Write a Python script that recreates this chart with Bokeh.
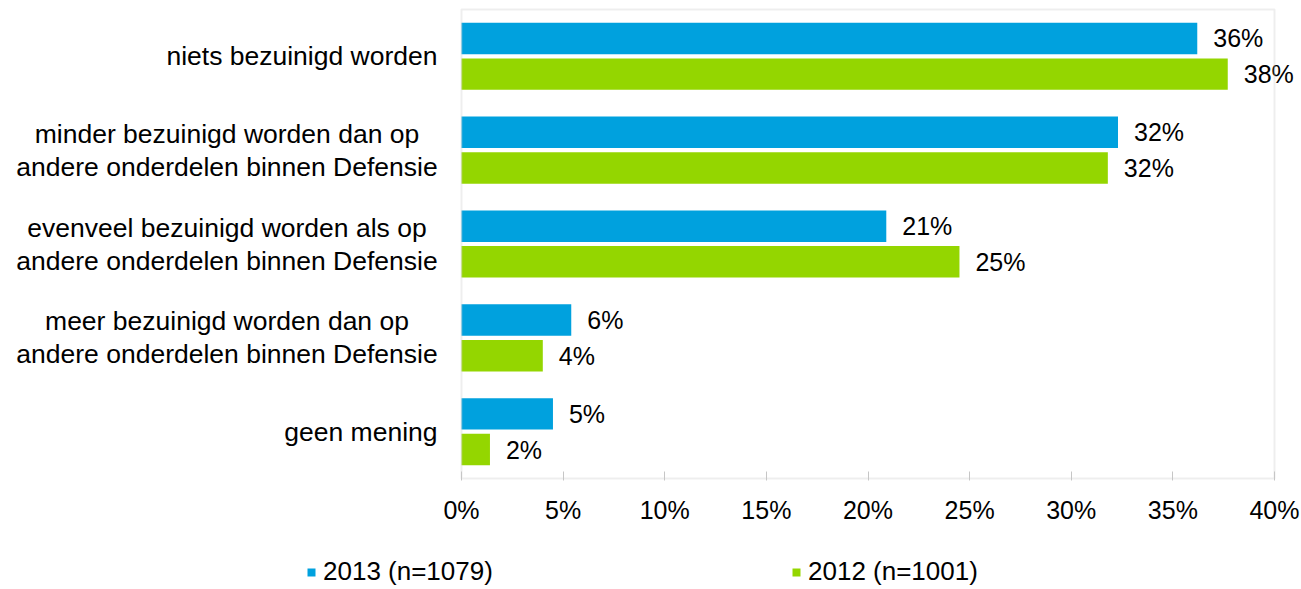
from bokeh.plotting import figure
from bokeh.models import (ColumnDataSource, FactorRange, Range1d, FixedTicker,
                          Legend, LegendItem, BoxAnnotation)
from bokeh.layouts import column
from bokeh.transform import dodge
from bokeh.core.properties import value
from bokeh.embed import file_html
from bokeh.resources import INLINE

# ---------------- data ----------------
categories = [
    "niets bezuinigd worden",
    "minder bezuinigd worden dan op\nandere onderdelen binnen Defensie",
    "evenveel bezuinigd worden als op\nandere onderdelen binnen Defensie",
    "meer bezuinigd worden dan op\nandere onderdelen binnen Defensie",
    "geen mening",
]
values_2013 = [36.2, 32.3, 20.9, 5.4, 4.5]
values_2012 = [37.7, 31.8, 24.5, 4.0, 1.4]
labels_2013 = ["36%", "32%", "21%", "6%", "5%"]
labels_2012 = ["38%", "32%", "25%", "4%", "2%"]
series_names = ["2013 (n=1079)", "2012 (n=1001)"]
x_ticks = [0, 5, 10, 15, 20, 25, 30, 35, 40]
x_tick_labels = ["0%", "5%", "10%", "15%", "20%", "25%", "30%", "35%", "40%"]
x_min, x_max = 0, 40

# ---------------- style / layout ----------------
FONT = "Liberation Sans"
FS_CAT = "26.5px"
FS_VAL = "25px"
FS_TICK = "25px"
FS_LEG = "26px"
BLUE = "#00A1DE"
GREEN = "#94D600"
FRAME = "#c6c6c6"
DODGE = 0.19
BAR_H = 0.335

W = 1300
H_MAIN, H_LEG = 548, 40
BOX_LEFT_PX, BOX_RIGHT_PX = 461, 1274      # plot box inside the frame
PAD = 0.02                                 # factor-units padding around box
px_per_unit = (BOX_RIGHT_PX - BOX_LEFT_PX) / (x_max - x_min)
xr = Range1d(x_min - BOX_LEFT_PX / px_per_unit,
             x_max + (W - BOX_RIGHT_PX) / px_per_unit)

p = figure(width=W, height=H_MAIN, title=None,
           y_range=FactorRange(factors=categories[::-1], range_padding=PAD,
                               range_padding_units="absolute"),
           x_range=xr, y_axis_location=None,
           output_backend="svg", toolbar_location=None,
           min_border_left=0, min_border_right=0,
           min_border_top=7, min_border_bottom=68)
p.background_fill_color = "white"
p.border_fill_color = "white"
p.outline_line_color = None
p.xgrid.visible = False
p.ygrid.visible = False

ax = p.xaxis[0]
ax.ticker = FixedTicker(ticks=x_ticks)
ax.major_label_overrides = {t: l for t, l in zip(x_ticks, x_tick_labels)}
ax.axis_line_color = None
ax.major_tick_in = 9
ax.major_tick_out = 0
ax.major_tick_line_color = FRAME
ax.major_tick_line_width = 1
ax.minor_tick_line_color = None
ax.major_label_standoff = 15
ax.major_label_text_font = FONT
ax.major_label_text_font_size = FS_TICK
ax.major_label_text_color = "black"

# plot box
p.add_layout(BoxAnnotation(left=x_min, right=x_max, bottom=0, top=len(categories),
                           fill_alpha=0, line_color=FRAME, line_width=2))

src = ColumnDataSource(dict(cat=categories, v13=values_2013, v12=values_2012,
                            l13=labels_2013, l12=labels_2012))

p.hbar(y=dodge("cat", DODGE, range=p.y_range), left=x_min, right="v13",
       height=BAR_H, source=src, fill_color=BLUE, line_color=None)
p.hbar(y=dodge("cat", -DODGE, range=p.y_range), left=x_min, right="v12",
       height=BAR_H, source=src, fill_color=GREEN, line_color=None)

for col, lab, off in (("v13", "l13", DODGE), ("v12", "l12", -DODGE)):
    p.text(x=col, y=dodge("cat", off, range=p.y_range), text=lab, source=src,
           x_offset=16, text_baseline="middle", text_align="left",
           text_font=value(FONT), text_font_size=value(FS_VAL), text_color="black")

# category labels left of the plot box
single = [c for c in categories if "\n" not in c]
multi = [c for c in categories if "\n" in c]
p.text(x=x_min, y="cat", text="cat", source=ColumnDataSource(dict(cat=single)),
       x_offset=-24, text_align="right", text_baseline="middle",
       text_font=value(FONT), text_font_size=value(FS_CAT), text_color="black")
p.text(x=x_min, y="cat", text="cat", source=ColumnDataSource(dict(cat=multi)),
       x_offset=-234.5, text_align="center", text_baseline="middle",
       text_line_height=1.1,
       text_font=value(FONT), text_font_size=value(FS_CAT), text_color="black")

# legend strip below the chart (proxy glyphs lie outside the visible range)
pl = figure(width=W, height=H_LEG, title=None, x_range=Range1d(0, 1), y_range=Range1d(0, 1),
            x_axis_location=None, y_axis_location=None,
            output_backend="svg", toolbar_location=None,
            min_border_left=0, min_border_right=0, min_border_top=0, min_border_bottom=0)
pl.outline_line_color = None
pl.xgrid.visible = False
pl.ygrid.visible = False
proxy = ColumnDataSource(dict(y=[5], r=[0]))
k13 = pl.hbar(y="y", right="r", left=0, height=0.5, source=proxy,
              fill_color=BLUE, line_color=None)
k12 = pl.hbar(y="y", right="r", left=0, height=0.5, source=proxy,
              fill_color=GREEN, line_color=None)
legend = Legend(items=[LegendItem(label=series_names[0], renderers=[k13]),
                       LegendItem(label=series_names[1], renderers=[k12])],
                orientation="horizontal", location=(306, 1),
                glyph_width=10, glyph_height=10, label_standoff=7,
                label_width=468, spacing=0, padding=0, margin=0,
                border_line_color=None, background_fill_alpha=0,
                label_text_font=FONT, label_text_font_size=FS_LEG,
                label_text_color="black")
pl.add_layout(legend)

open("out.html", "w").write(file_html(column(p, pl), INLINE))
